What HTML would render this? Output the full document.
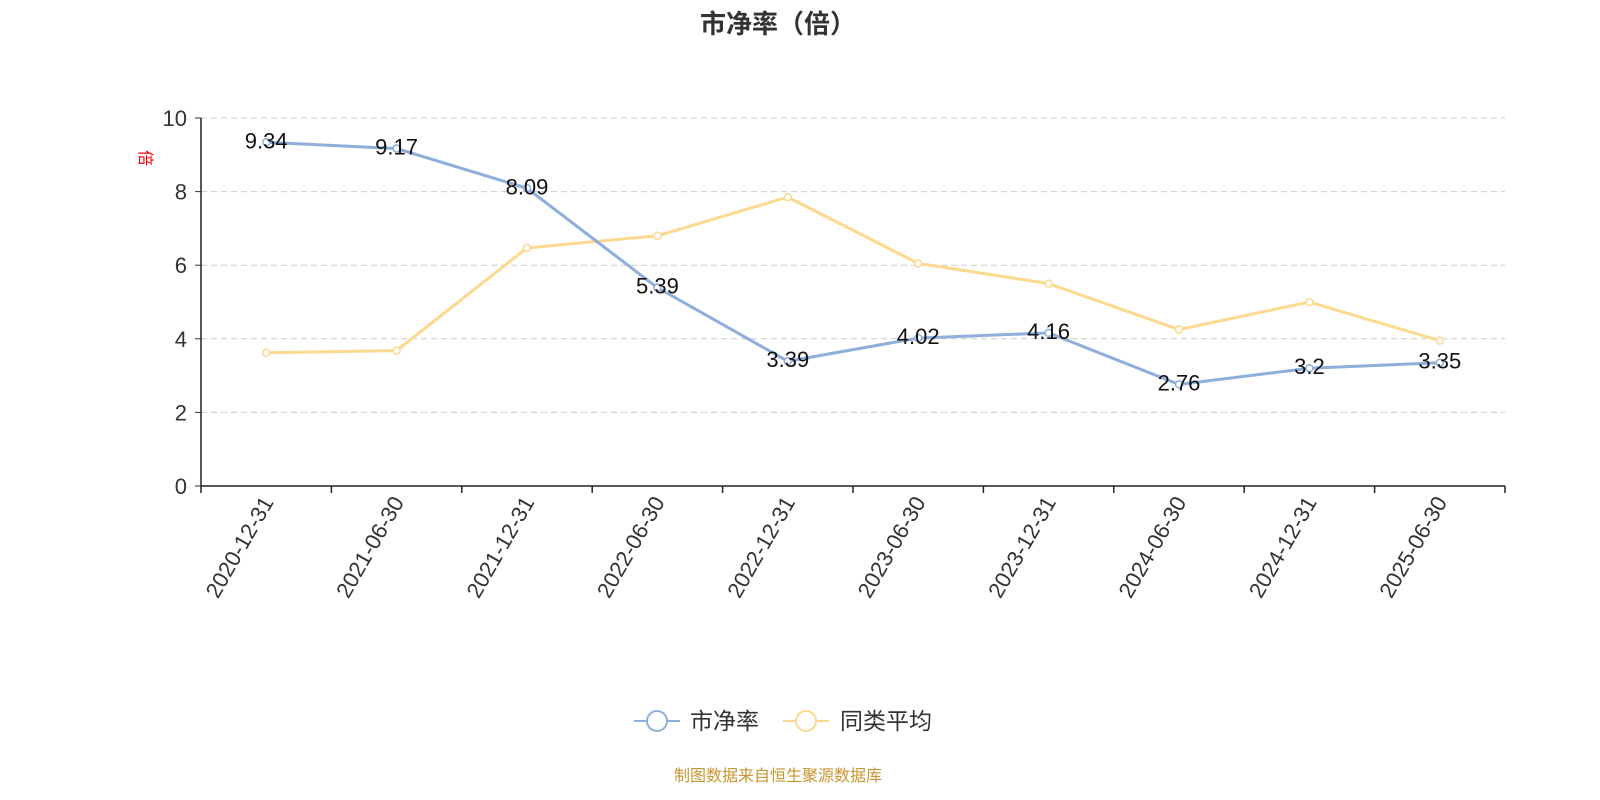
<!DOCTYPE html>
<html><head><meta charset="utf-8"><style>
body{margin:0;background:#fff;}
svg{display:block;font-family:"Liberation Sans","Noto Sans CJK SC",sans-serif;}
</style></head><body>
<svg id="chart" width="1600" height="800">
<text x="778" y="33" text-anchor="middle" font-size="26" font-weight="bold" fill="#333">市净率（倍）</text>
<text x="0" y="0" transform="translate(140,158) rotate(90)" text-anchor="middle" font-size="16" fill="#e00">倍</text>
<g id="grid"></g><g id="axes"></g><g id="series"></g>
<g>
<g>
<line x1="634" y1="721" x2="680" y2="721" stroke="#8eaedb" stroke-width="2"/>
<circle cx="657" cy="721" r="10" fill="#fff" stroke="#8eaedb" stroke-width="2"/>
<text x="690" y="729" font-size="23" fill="#333">市净率</text></g>
<g>
<line x1="783" y1="721" x2="829" y2="721" stroke="#fdd88f" stroke-width="2"/>
<circle cx="806" cy="721" r="10" fill="#fff" stroke="#fdd88f" stroke-width="2"/>
<text x="840" y="729" font-size="23" fill="#333">同类平均</text></g>
</g>
<text x="778" y="781" text-anchor="middle" font-size="16" fill="#c8962e">制图数据来自恒生聚源数据库</text>
</svg>
<script>
const categories=["2020-12-31","2021-06-30","2021-12-31","2022-06-30","2022-12-31","2023-06-30","2023-12-31","2024-06-30","2024-12-31","2025-06-30"];
const pbValues=[9.34,9.17,8.09,5.39,3.39,4.02,4.16,2.76,3.2,3.35];
const peerValues=[3.62,3.68,6.47,6.8,7.85,6.05,5.5,4.25,5.0,3.95];
const yTicks=[0,2,4,6,8,10];
const NS="http://www.w3.org/2000/svg";
const x0=201,x1=1505,y0=486,y1=118,yMax=10;
const band=(x1-x0)/categories.length;
const xs=i=>x0+band*(i+0.5);
const ys=v=>y0-(v/yMax)*(y0-y1);
function mk(tag,attrs,parent){const e=document.createElementNS(NS,tag);for(const k in attrs)e.setAttribute(k,attrs[k]);parent.appendChild(e);return e;}
const grid=document.getElementById('grid'),axes=document.getElementById('axes'),series=document.getElementById('series');
yTicks.forEach(t=>{
  if(t>0){const g=mk('line',{x1:x0,x2:x1,y1:ys(t),y2:ys(t),stroke:'#ccc','stroke-dasharray':'6,4'},grid);
  
  }
  const l=mk('text',{x:x0-14,y:ys(t)+8,'text-anchor':'end','font-size':22,fill:'#333'},axes);l.textContent=t;
  
  
  mk('line',{x1:x0-6,x2:x0,y1:ys(t),y2:ys(t),stroke:'#333'},axes);
});
const ya=mk('line',{x1:x0,x2:x0,y1:y1,y2:y0,stroke:'#222','stroke-width':1.5},axes);


const xa=mk('line',{x1:x0,x2:x1,y1:y0,y2:y0,stroke:'#222','stroke-width':1.5},axes);


for(let i=0;i<=categories.length;i++){mk('line',{x1:x0+band*i,x2:x0+band*i,y1:y0,y2:y0+7,stroke:'#222','stroke-width':1.5},axes);}
categories.forEach((c,i)=>{
  const t=mk('text',{transform:`translate(${xs(i)+8},${y0+16}) rotate(-60)`,'text-anchor':'end','font-size':22,fill:'#333'},axes);
  t.textContent=c;
  
  
});
function drawLine(vals,color,name,labels){
  const p=mk('polyline',{points:vals.map((v,i)=>xs(i)+','+ys(v)).join(' '),fill:'none',stroke:color,'stroke-width':3},series);
  
  
  vals.forEach((v,i)=>{
    const c=mk('circle',{cx:xs(i),cy:ys(v),r:3.5,fill:'#fff',stroke:color,'stroke-width':1.5},series);
    
    
  });
  if(labels)vals.forEach((v,i)=>{
    const t=mk('text',{x:xs(i),y:ys(v)+6,'text-anchor':'middle','font-size':22,fill:'#111'},series);
    t.textContent=v;
    
    
  });
}
drawLine(peerValues,'#fdd88f','peer-avg',false);
drawLine(pbValues,'#8eaedb','pb',true);
</script>
</body></html>
